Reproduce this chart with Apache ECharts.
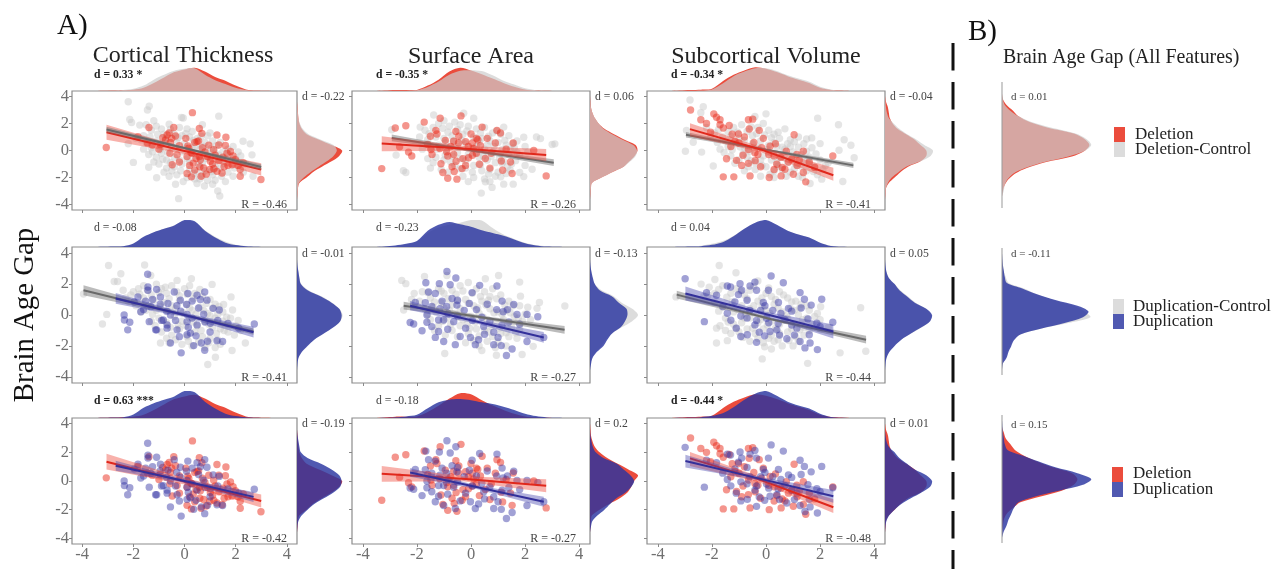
<!DOCTYPE html>
<html><head><meta charset="utf-8">
<script src="https://cdn.jsdelivr.net/npm/echarts@6/dist/echarts.min.js"></script>
<style>html,body{margin:0;padding:0;background:#fff}#c{width:1279px;height:569px;filter:blur(.65px)}</style>
</head><body><div id="c"></div>
<script>
// ---------- data ----------
const tickVals=[-4,-2,0,2,4];
const featureTitles=['Cortical Thickness','Surface Area','Subcortical Volume'];
const rLabels=[['R = -0.46','R = -0.26','R = -0.41'],['R = -0.41','R = -0.27','R = -0.44'],['R = -0.42','R = -0.27','R = -0.48']];
const dTop=[['d = 0.33 *','d = -0.35 *','d = -0.34 *'],['d = -0.08','d = -0.23','d = 0.04'],['d = 0.63 ***','d = -0.18','d = -0.44 *']];
const dRight=[['d = -0.22','d = 0.06','d = -0.04'],['d = -0.01','d = -0.13','d = 0.05'],['d = -0.19','d = 0.2','d = 0.01']];
const dAll=['d = 0.01','d = -0.11','d = 0.15'];

const delT=[[-3.06,.22],[.31,2.8],[2.99,-2.15],[-1.82,1.02],[-.68,1.15],[-.35,1.07],[-.74,.78],[-.42,1.7],[-1.39,1.7],[.58,1.63],[.68,1.27],[1.27,1.15],[1.62,.98],[.49,.66],[.13,.34],[.17,.17],[1.34,.41],[1.6,.37],[1.8,-.07],[1.66,-.2],[-1,.1],[-1.26,.41],[-.57,-.2],[-.29,-.32],[-.48,-1.05],[.34,-.93],[.62,-.68],[.58,-.44],[1.01,-.8],[.75,-1.29],[.99,-1.41],[1.27,-1.54],[1.47,-1.66],[.27,-1.95],[.65,-1.9],[1.86,-1.05],[2.18,-1.41],[2.18,-1.9],[1.99,-.68],[1.14,.05],[.1,-.44],[.55,.7],[.4,.6],[.95,.4],[1.5,-.5],[.8,-.1],[.3,-.2],[1.1,-1],[1.7,-1.1],[2.1,-1.1],[-.6,1.3],[-.5,.9],[.2,-1.1],[.6,-1.2],[-.85,.95],[-.55,.6],[-.2,.35],[.05,.9],[.25,-.15],[.45,-.6],[.7,.2],[.9,-.45],[1.2,-.35],[1.35,-.75],[1.55,-1.2],[.4,-1.45],[.85,-1.75],[1.15,-1.35],[-.2,-.85],[-1.45,.55],[-.95,.45],[2.3,-.9],[1.9,-.4],[.1,-1.7]];
const delCtrlT=[[-2.2,3.6],[-1.38,3.27],[-1.45,3],[-2.14,2.3],[-2.07,2.07],[-1.75,1.88],[-.12,2.44],[1.34,2.54],[-.23,-3.56],[1.3,-3],[1.38,-3.37],[-2,-.88],[-1.4,-1.24],[-1.09,-2.02],[-.35,-2.5],[.49,-2.44],[.78,-2.63],[2.64,-.32],[2.29,.68],[2.57,.49],[2.68,-1.9],[-.05,2.4],[-1.5,1.9],[-1.2,2.2],[-1.3,1.5],[-1.6,1.1],[-1.9,.9],[-2.2,.5],[-1.1,1.8],[-.9,1.6],[-.6,1.95],[-.2,1.7],[.1,1.6],[.3,1.4],[.7,1.9],[.9,1.1],[-.8,1.2],[-.4,1.2],[-.1,1.1],[.2,1],[.5,.9],[.8,.6],[1.1,.7],[1.4,.6],[1.9,.3],[2.1,-.1],[-1.5,.6],[-1.3,.2],[-1.1,.7],[-.9,.4],[-.7,.5],[-.5,.3],[-.3,.6],[0,.5],[.3,.2],[.6,.1],[.9,-.1],[1.2,-.2],[1.5,-.1],[-1.4,-.3],[-1.1,-.5],[-.9,-.2],[-.7,-.7],[-.4,-.5],[-.1,-.1],[.1,-.6],[.4,-.4],[.7,-.9],[1,-.5],[1.3,-.7],[1.6,-.6],[2,-.6],[2.4,-1],[-1,-1],[-.7,-1.3],[-.4,-1.2],[-.1,-1],[.2,-1.4],[.5,-1.6],[.8,-1.5],[1.1,-1.8],[1.4,-1.3],[1.7,-1.6],[1.9,-1.9],[2.3,-1.6],[-.3,-1.8],[.1,-2],[.4,-2.1],[.9,-2.2],[1.2,-2.2],[1.6,-2.3],[-.6,-1.9],[-1.7,.8],[-1.35,1],[-1.05,1.2],[-.75,.85],[-.55,1.55],[-.25,.95],[.05,1.25],[.35,.75],[.65,1.05],[1,1.3],[1.25,.35],[1.7,.1],[-1.6,.1],[-1.25,-.1],[-.95,.05],[-.65,-.15],[-.35,.15],[.05,.15],[.45,.35],[.75,.3],[1.05,.15],[1.35,-.35],[1.75,-.35],[2.2,-.4],[-1.2,-.85],[-.85,-.65],[-.55,-.9],[-.2,-.7],[.2,-.85],[.55,-1.05],[.85,-.6],[1.2,-1.2],[1.55,-.95],[1.95,-1.3],[2.15,-.9],[-.8,-1.6],[-.15,-1.5],[.35,-1.7],[.7,-1.85],[1.05,-1.55],[1.45,-1.9],[-.05,-2.3],[.6,-2.1],[1.1,-2.5],[-.5,-1.5]];
const delS=[[-3.3,-1.34],[-2.8,1.66],[-2.41,1.83],[-1.73,2.1],[-1.14,2.39],[-.37,2.56],[-1.3,1.49],[-1.26,1.22],[-.56,1.41],[0,1.22],[.41,1.73],[.25,.8],[.96,1.49],[1.09,1.29],[1.56,.56],[2.32,0],[2.78,-1.88],[1.52,-1.7],[1.17,-1.46],[1.12,-.78],[1.46,-.85],[.53,-.59],[-.09,-.54],[.31,-1.02],[-.33,-1.34],[-.7,-1.2],[-.62,-1.56],[-.52,-2.12],[-.86,-2.05],[-1.04,-1.63],[-1.11,-.98],[-.86,-.41],[-.64,-.3],[-1.44,-.3],[-1.48,.07],[-2.19,-.41],[-2.31,-.12],[-2.64,.27],[-.64,.68],[-.46,.56],[-.1,.3],[.2,.9],[-.9,-.1],[-.3,-.6],[.05,-.35],[-.95,.75],[-.75,.3],[-.45,1.05],[-.2,.65],[.1,.15],[.35,.35],[.6,.9],[.75,-.2],[.9,.55],[1.3,.1],[-1.6,.45],[-1.15,.15],[-.55,-.8],[-.2,-1.1],[.2,-.2],[.7,-1.3],[-1.5,1.05],[.05,.55]];
const delCtrlS=[[.38,-3.15],[-2.41,-1.63],[-2.77,-.34],[-2.93,1.54],[1.95,.98],[2.42,1],[2.57,.88],[3,.44],[3.1,.49],[-.27,2.76],[-1.38,2.63],[.1,2.39],[-1.88,1.73],[1.21,1.73],[.78,-2.73],[.53,-2.32],[1.21,-2.49],[1.56,-2.49],[1.95,-1.93],[2.26,-1.39],[1.8,-1.63],[-2.5,-1.5],[-1.7,1.5],[-1.4,1.7],[-1.2,2],[-1,2.2],[-.8,1.8],[-.6,2.1],[-.4,1.9],[-.1,1.8],[.2,1.6],[.5,1.7],[.8,1.3],[1.1,1.2],[1.4,1.1],[1.7,.7],[-1.9,1],[-1.6,.8],[-1.3,1],[-1,.9],[-.7,1.1],[-.3,1.2],[.1,1],[.4,.9],[.7,.7],[1,.6],[1.3,.4],[1.6,.2],[2,.3],[-1.8,.1],[-1.5,.2],[-1.2,.4],[-.9,.1],[-.5,.3],[-.2,.5],[.2,.3],[.5,.1],[.8,-.1],[1.1,-.2],[1.4,-.3],[1.8,-.4],[-1.6,-.6],[-1.3,-.5],[-1,-.7],[-.7,-.4],[-.4,-.6],[-.1,-.3],[.3,-.5],[.6,-.7],[.9,-.9],[1.2,-.8],[1.5,-1],[-1.5,-1.3],[-1.1,-1.4],[-.6,-1.1],[-.2,-1.3],[.1,-1.1],[.4,-1.5],[.7,-1.4],[1,-1.6],[1.3,-1.7],[-.3,-1.9],[.1,-2],[.5,-2.1],[.9,-1.9],[-1.55,1.25],[-1.05,1.65],[-.85,1.35],[-.5,1.55],[-.15,1.45],[.35,1.3],[.65,1.05],[.95,1.45],[1.25,.75],[1.55,.5],[-1.65,.45],[-1.25,.1],[-.95,.55],[-.65,.7],[-.35,.75],[.05,.15],[.3,.65],[.6,.4],[.85,.3],[1.15,.05],[1.45,.05],[1.7,-.15],[2.1,-.1],[-1.4,-.9],[-.95,-.35],[-.75,-.85],[-.5,-.15],[-.2,-.75],[.15,-.2],[.45,-.4],[.75,-.45],[1.05,-.55],[1.35,-1.2],[1.65,-.75],[2,-1.1],[-.85,-1.6],[-.4,-1.35],[.05,-1.6],[.35,-1.05],[.65,-1.75],[1.1,-1.95],[1.45,-1.45],[-.1,-2.3],[.7,-2.3],[1.15,-.95]];
const delV=[[-2.79,3],[-2.41,2.27],[-1.93,2.71],[-1.83,2.46],[-1.7,2.27],[-1.36,1.85],[-1.58,1.66],[-1.02,1.22],[-.65,2.27],[-.49,2.32],[-.62,1.59],[-.25,1.49],[1.04,1.17],[2.47,-.41],[-1.58,-1.95],[-1.19,-1.95],[-.59,-1.88],[.12,-2],[.56,-1.88],[1.01,-1.76],[1.47,-2.32],[1.38,-1.63],[.7,-1.39],[.83,-.85],[1.23,-.71],[-1.46,-.61],[-1.09,-.73],[-.9,-1.1],[-.65,-.95],[-.41,-.17],[-.65,.07],[-.16,.2],[.15,.32],[.4,-1.02],[1.14,-.29],[1.38,-.05],[-1.15,.68],[-.3,-.3],[.3,-.4],[-1.7,1.9],[-2.2,2],[-1.25,1.2],[-1,.55],[-.8,1],[-.45,.6],[-.1,.9],[.1,-.3],[.35,.5],[.55,-.5],[.75,-.05],[.95,-.65],[1.15,-1.1],[.3,-1.4],[-.2,-1.2],[-.4,-.75],[-.85,-.35],[1.6,-.85],[.6,-1.25],[1.8,-1.25],[-2.05,1.35],[-1.3,.3]];
const delCtrlV=[[-2.81,3.73],[-2.32,3.24],[-2.41,2.8],[-2.98,-.05],[-2.38,-.12],[-2.69,.61],[-2.94,1.49],[1.91,2.39],[2.68,1.9],[2.89,.8],[3.14,.39],[3.26,-.54],[2.7,.02],[2.84,-2.29],[1.63,-2.44],[2.06,-2.12],[0,2.71],[-.41,2.51],[-1.95,-1.15],[1.69,.93],[2,.51],[-2.2,1.7],[-1.9,1.3],[-1.6,1],[-1.8,.6],[-1.4,1.4],[-1.2,1.7],[-1,.9],[-.9,1.9],[-.7,1.4],[-.5,1.1],[-.3,1.7],[-.1,2],[.1,1.5],[.3,1.2],[.5,.9],[.7,1.6],[.9,.8],[1.2,1],[1.4,.5],[1.7,.2],[-1.7,.1],[-1.4,.3],[-1.1,.5],[-.8,.2],[-.5,.5],[-.2,.7],[.1,.4],[.4,.3],[.7,.1],[1,-.1],[1.3,-.3],[1.6,-.5],[2,-.7],[2.3,-.9],[-1.3,-.4],[-1,-.7],[-.7,-.5],[-.4,-.9],[-.1,-.4],[.2,-.7],[.5,-.5],[.8,-.9],[1.1,-1],[1.4,-.8],[1.8,-1.2],[2.1,-1.4],[-.8,-1.5],[-.4,-1.4],[0,-1.2],[.3,-1.5],[.6,-1.4],[.9,-1.6],[1.2,-1.9],[1.5,-1.5],[1.9,-1.8],[-.2,-1.9],[.3,-2],[-2.05,1],[-1.75,1.55],[-1.5,.7],[-1.3,1.05],[-1.05,1.35],[-.8,.75],[-.55,1.75],[-.35,1.25],[-.05,1.15],[.2,.95],[.45,1.35],[.8,.5],[1.05,.65],[1.5,.85],[-1.55,-.15],[-1.25,.05],[-.95,.25],[-.6,-.05],[-.3,.25],[.05,.05],[.3,.6],[.6,.25],[.9,.3],[1.2,.25],[1.5,-.05],[1.85,-.25],[-1.15,-.95],[-.85,-.25],[-.55,-.75],[-.2,-.7],[.1,-.15],[.4,-.9],[.7,-.55],[1,-.5],[1.3,-1.15],[1.6,-.95],[2.2,-1.1],[-.65,-1.2],[-.15,-1.1],[.15,-1.75],[.45,-1.15],[.75,-1.9],[1.05,-1.35],[1.35,-2],[1.75,-1.55]];
const dupT=[[-1.44,2.64],[-1.43,1.81],[-1.43,1.6],[-1.09,1.66],[-.4,1.49],[-1.82,1.17],[-1.52,.9],[-2.36,0],[-2.35,-.32],[-2.14,-.47],[-2.22,-.96],[-1.38,-.43],[-1.09,-.96],[-.83,-.32],[-.65,.75],[.13,1.39],[.79,1.49],[.62,1],[.88,.96],[1.12,.43],[1.36,.32],[.08,.68],[.1,.04],[-.16,.96],[-.55,-1.81],[-.13,-2.45],[.1,-1.28],[.36,-1.98],[.66,-1.81],[.79,-2.28],[1.27,-1.66],[1.49,-1.71],[2.73,-.58],[2.12,-.85],[-.68,-.85],[-1.13,-.96],[.1,-.43],[.49,-.64],[1.01,-.53],[-.55,0],[-1.71,.21],[-1.97,.85],[-.68,-.64],[-.29,-.96],[.23,-1.17],[-.94,1.17],[-1.32,.53],[.49,1.28],[-1.25,1],[-.95,.7],[-.7,.25],[-.3,.6],[.3,.9],[.55,.45],[.75,.05],[-.15,.25],[.3,-.2],[.8,-.45],[1.3,-.35],[1.7,-.55],[-.2,-1.4],[.45,-1.35],[1,-1.1],[-.9,-.35],[-1.6,.35],[-.35,-.35],[.15,-.8],[.9,-1.7]];
const dupCtrlT=[[-2.97,3.2],[-1.56,3.24],[-2.49,2.67],[-1.32,2.56],[-2.75,2.17],[-2.62,2.17],[-3.95,1.36],[-3.21,-.58],[-3.04,.04],[1.08,1.98],[1.82,1.17],[1.53,.68],[1.88,.32],[2.38,-1.81],[1.86,-2.3],[1.21,-2.73],[.91,-3.2],[.27,2.35],[-.29,2.24],[-.94,-1.81],[-2.4,1.6],[-2.1,1.3],[-1.8,1.7],[-1.6,1.9],[-2.2,.9],[-1.9,.6],[-1.6,1.1],[-1.3,1.3],[-1.1,2],[-.9,1.7],[-.7,1.4],[-.5,1.9],[-.3,1.5],[0,1.7],[.2,1.9],[.4,1.4],[.7,1.2],[1,1],[1.2,.7],[1.5,.2],[1.8,-.2],[-1.7,.2],[-1.4,.6],[-1.1,.3],[-.8,.8],[-.5,.6],[-.2,.9],[.1,.7],[.3,.3],[.6,.5],[.9,.1],[1.2,-.2],[1.5,-.4],[2,-.7],[-1.3,-.4],[-1,-.2],[-.7,-.5],[-.4,-.1],[-.1,-.4],[.2,-.2],[.5,-.7],[.8,-.4],[1.1,-.8],[1.4,-.9],[1.7,-1.1],[2.2,-1],[-.9,-1.1],[-.5,-1.3],[-.2,-.9],[.1,-1.4],[.4,-1.1],[.7,-1.4],[1,-1.5],[1.3,-1.6],[-.6,-1.8],[-.1,-1.9],[.3,-2],[.8,-2.1],[1.2,-2.1],[-2.3,1.1],[-2,1.5],[-1.75,1.35],[-1.45,1.6],[-1.2,.95],[-1,1.45],[-.75,1.8],[-.6,1.05],[-.2,1.25],[.1,1.35],[.35,1.05],[.6,1.65],[.85,.75],[1.1,.45],[1.35,.55],[-1.5,.3],[-1.25,.05],[-.95,.55],[-.65,.25],[-.35,.4],[-.05,.15],[.2,.45],[.45,.05],[.75,.3],[1,-.05],[1.3,.05],[1.65,-.15],[2.1,-.35],[-1.15,-.7],[-.85,-.35],[-.55,-.8],[-.25,-.65],[.05,-.7],[.35,-.45],[.65,-1],[.95,-.6],[1.25,-1.2],[1.55,-1],[1.95,-1.3],[-.7,-1.5],[-.35,-1.6],[.15,-1.7],[.55,-1.75],[.95,-1.8],[1.4,-1.9]];
const dupS=[[-.89,2.81],[-.56,2.39],[-.77,1.96],[-1.17,2.03],[-1.67,2.09],[.32,1.92],[.96,1.88],[.04,1.45],[-.06,.75],[-1.57,1.49],[-1.32,1.39],[-1.07,.9],[-.7,1.07],[-1.69,.79],[-2.06,.81],[1.15,.9],[1.58,.68],[1.19,.21],[1.7,.04],[2.07,.04],[2.47,-.11],[-1.63,0],[-1.63,-.47],[-2.25,-.49],[-2.12,-.58],[-1.81,-1.02],[-1.2,-.32],[-.86,-.92],[-1.2,-1.07],[-1.32,-1.45],[-1.01,-1.71],[-.58,-1.92],[-.4,-1.39],[-.02,-1.45],[.28,-1.6],[.16,-1.92],[.47,-.75],[.84,-1.11],[1.15,-.64],[2.07,-1.71],[2.69,-1.45],[1.52,-2.2],[1.31,-2.62],[1.12,-1.98],[.84,-1.92],[-.64,-.43],[-1.01,-.32],[-.52,.64],[-1.45,.55],[-1.15,.4],[-.9,.55],[-.5,.95],[-.25,.3],[.2,.35],[.6,.7],[.95,.35],[1.35,.35],[-.85,.1],[-.5,-.05],[.05,-.35],[.4,-.15],[.7,-.4],[1.4,-.45],[1.8,-.6],[-.2,-.85],[.5,-1.25],[1,-1.45],[-1.45,-.75]];
const dupCtrlS=[[-2.56,2.24],[-2.41,2.03],[-1.72,2.49],[-.89,2.56],[1.02,2.56],[.53,2.35],[1.8,2.13],[1.83,1.22],[2.53,.81],[3.47,.58],[2.44,.43],[-.97,-2.49],[.94,-2.6],[1.89,-2.56],[2.3,-2.03],[-2.49,.32],[-2.1,1.4],[-1.8,1.5],[-1.9,.9],[-1.5,1.1],[-1.2,1.7],[-1,1.4],[-.7,1.6],[-.4,1.9],[-.1,2.1],[.2,1.7],[.5,1.5],[.8,1.7],[.7,1.2],[1.1,1.3],[1.4,.9],[1.8,.6],[2.1,.5],[-1.7,.4],[-1.4,.5],[-1.1,.8],[-.8,.3],[-.5,.9],[-.2,1],[.1,.6],[.4,.9],[.7,.4],[1,.2],[1.3,.3],[1.6,-.1],[1.9,-.4],[2.2,-.3],[-1.5,-.3],[-1.2,-.7],[-.9,-.2],[-.6,.1],[-.3,-.3],[0,-.1],[.3,.1],[.6,-.3],[.9,-.5],[1.2,-.3],[1.5,-.8],[1.8,-.9],[-.7,-1],[-.4,-.7],[-.1,-1.2],[.2,-.9],[.5,-1],[.8,-1.4],[1.1,-1.2],[1.4,-1.4],[1.7,-1.5],[-.2,-1.8],[.3,-2],[.6,-1.7],[.9,-2.1],[1.3,-2],[.4,-2.3],[-2.2,1],[-1.6,1.45],[-1.35,.85],[-1.1,1.55],[-.85,1.05],[-.55,1.35],[-.3,1.55],[.05,1.4],[.35,1.2],[.65,.95],[.95,1.05],[1.25,.65],[1.55,.6],[-1.6,.05],[-1.3,.2],[-1,.45],[-.7,.65],[-.4,.4],[-.1,.75],[.25,.45],[.55,.65],[.85,.15],[1.15,.05],[1.45,.15],[1.75,-.2],[2,.05],[-1.35,-1],[-1.05,-.4],[-.75,-.6],[-.45,-.15],[-.15,-.6],[.15,-.45],[.45,-.15],[.75,-.75],[1.05,-.85],[1.35,-.6],[1.65,-1.15],[-.95,-1.3],[-.5,-1.4],[-.05,-.85],[.3,-1.35],[.65,-1.1],[1,-1.75],[1.3,-1.15],[.1,-1.65]];
const dupV=[[-2.99,2.35],[.19,2.52],[.64,2.09],[-.96,2.03],[-1.43,1.88],[-1.31,1.81],[-.59,1.88],[-.41,2.13],[-.9,1.6],[-1.02,1.32],[-.35,1.6],[.09,1.6],[1.26,1.45],[1.42,1.02],[1.67,.64],[2.06,1.02],[.46,.81],[-.1,.81],[-.04,.6],[.83,.43],[-2.2,1.45],[-1.83,1.28],[-2.28,-.43],[-1.3,-.34],[-1.43,.11],[-.93,-.06],[-.35,-1.77],[-.69,-1.28],[-.93,-1.39],[-.25,-1.11],[.15,-1.07],[.7,-.32],[2.47,-.47],[1.88,-.53],[1.6,-1.28],[1.63,-1.81],[1.44,-2.13],[1.9,-2.24],[1.26,-1.71],[.77,-1.54],[.4,-.96],[1.14,-.85],[.02,-.21],[-.41,-.64],[-1.6,.55],[-1.15,.85],[-.7,.95],[-.6,.3],[-.2,.3],[.25,.3],[.55,.1],[.95,.25],[1.3,.45],[1.55,-.25],[-.7,-.2],[-.35,-.35],[.1,-.5],[.45,-.55],[.95,-.65],[-.05,-1.35],[.5,-1.3],[1.05,-1.3],[2,-.75],[-1.1,-.85]];
const dupCtrlV=[[-1.73,3.2],[-1.11,2.73],[-3.33,1.17],[-1.89,2.3],[3.5,.47],[3.69,-2.35],[2.74,-2.45],[1.54,-3.13],[-.14,-2.84],[-1.83,-1.81],[-1.43,-1.66],[-1.83,-.85],[2.02,.53],[-2.4,2],[-2.1,1.8],[-1.9,1.4],[-1.6,1.9],[-2.3,1.2],[-1.9,.8],[-1.6,.5],[-1.3,1.4],[-1.1,1.7],[-.8,1.3],[-.6,1.6],[-.3,2.2],[0,1.4],[.2,1.2],[.5,1.5],[.8,1.1],[1.1,.9],[1.3,.7],[1.6,.3],[1.9,.1],[-1.5,-.2],[-1.2,.2],[-.9,.6],[-.6,.4],[-.3,.9],[0,.3],[.3,.7],[.6,.2],[.9,.4],[1.2,0],[1.5,-.2],[2,-.3],[2.3,-.8],[-1.7,-.7],[-1.2,-.6],[-.9,-.5],[-.6,-.2],[-.3,-.5],[-.1,-.1],[.2,-.4],[.5,-.6],[.8,-.2],[1.1,-.6],[1.4,-.8],[1.7,-.6],[-1.3,-1.2],[-1,-1.1],[-.7,-.9],[-.4,-1.2],[-.1,-.9],[.2,-1.3],[.5,-1.2],[.8,-1.1],[1.1,-1.4],[1.4,-1.3],[-.6,-1.7],[-.1,-1.8],[.3,-1.7],[.6,-2],[1,-2],[.2,-2.2],[-2.15,1.3],[-1.75,1.65],[-1.45,1.15],[-1.25,.85],[-.95,1.55],[-.7,1.05],[-.45,1.85],[-.15,1.1],[.1,1.75],[.35,1],[.65,1.3],[.95,.85],[1.25,.45],[1.5,.6],[-1.75,.25],[-1.4,-.45],[-1.05,.35],[-.75,.1],[-.45,.6],[-.15,.55],[.15,.1],[.45,.45],[.75,-.05],[1.05,.3],[1.35,-.3],[1.8,-.1],[-1.5,-1],[-1.1,-.85],[-.8,-.2],[-.5,-.85],[-.2,-.3],[.05,-.65],[.35,-.85],[.65,-.25],[.95,-.9],[1.25,-.95],[1.6,-1],[2,-.9],[-.85,-1.45],[-.3,-1.5],[.1,-1.5],[.45,-1.6],[.85,-1.65],[1.2,-1.7],[-.05,-2.05]];

// regression fits: [x, lower, fit, upper] at left end, middle, right end
const fitDelT=[[-3.05,.8,1.35,1.9],[0,-.25,-.03,.2],[3,-1.85,-1.4,-.95]];
const fitDelCtrlT=[[-3.05,1.35,1.55,1.75],[0,.1,.18,.26],[3,-1.42,-1.22,-1.02]];
const fitDelS=[[-3.3,-.05,.51,1.05],[-.3,-.02,.15,.34],[2.78,-.78,-.34,.12]];
const fitDelCtrlS=[[-2.93,.68,.93,1.18],[0,-.1,.02,.12],[3.06,-1.15,-.9,-.65]];
const fitDelV=[[-2.81,1.05,1.58,2.02],[-.2,-.12,.08,.28],[2.49,-2.24,-1.83,-1.27]];
const fitDelCtrlV=[[-2.96,.97,1.17,1.37],[0,-.04,.05,.14],[3.23,-1.3,-1.1,-.9]];
const fitDupT=[[-2.69,.72,1.07,1.42],[0,-.13,0,.13],[2.7,-1.46,-1.11,-.76]];
const fitDupCtrlT=[[-3.95,1.28,1.6,1.92],[0,-.08,0,.08],[2.7,-1.27,-1.07,-.87]];
const fitDupS=[[-2.25,.3,.6,.9],[.2,-.55,-.42,-.29],[2.69,-1.8,-1.45,-1.1]];
const fitDupCtrlS=[[-2.49,.35,.6,.85],[.5,-.28,-.18,-.08],[3.46,-1.21,-.96,-.71]];
const fitDupV=[[-2.98,.94,1.39,1.84],[-.2,.02,.15,.28],[2.49,-1.52,-1.07,-.62]];
const fitDupCtrlV=[[-3.3,1.07,1.32,1.57],[.2,-.35,-.27,-.19],[3.7,-1.85,-1.6,-1.35]];

// density curves: height (fraction of strip) at each value of densityAt
const densityAt=[-4,-3.6,-3.2,-2.8,-2.4,-2,-1.6,-1.2,-.8,-.4,0,.4,.8,1.2,1.6,2,2.4,2.8,3.2,3.6,4];
const topDelT=[0,0,.01,.02,.03,.05,.12,.3,.5,.7,.8,.86,.72,.52,.38,.2,.06,.02,.01,0,0];
const topDelCtrlT=[0,0,.01,.02,.04,.08,.2,.42,.6,.75,.82,.84,.6,.4,.26,.12,.04,.02,.01,0,0];
const topDelS=[0,0,.02,.04,.04,.04,.2,.42,.72,.86,.76,.62,.46,.3,.16,.06,.02,.01,0,0,0];
const topDelCtrlS=[0,0,.01,.01,.01,.03,.15,.35,.6,.75,.77,.74,.58,.38,.24,.1,.03,.01,0,0,0];
const topDelV=[0,0,.02,.04,.05,.08,.36,.6,.76,.88,.82,.7,.55,.42,.3,.12,.04,.02,0,0,0];
const topDelCtrlV=[0,0,.01,.01,.02,.06,.28,.55,.72,.84,.84,.74,.58,.46,.34,.16,.06,.02,.01,0,0];
const topDupT=[0,0,.01,.02,.03,.13,.38,.55,.68,.8,1,.95,.6,.35,.16,.07,.03,.01,0,0,0];
const topDupCtrlT=[0,0,.01,.02,.03,.12,.36,.55,.68,.8,.97,.92,.62,.38,.2,.08,.04,.01,0,0,0];
const topDupS=[0,0,.02,.06,.12,.22,.6,.82,.93,.84,.75,.62,.52,.42,.28,.14,.06,.02,.01,0,0];
const topDupCtrlS=[0,0,.01,.04,.1,.2,.52,.72,.82,.9,1,.98,.7,.46,.3,.16,.07,.02,.01,0,0];
const topDupV=[0,0,.01,.02,.03,.08,.18,.4,.68,.9,1,.82,.6,.46,.35,.16,.04,.01,0,0,0];
const topDupCtrlV=[0,0,.01,.02,.05,.12,.22,.42,.68,.88,.98,.8,.6,.46,.33,.16,.05,.02,0,0,0];
const lowTopDelS=[0,0,.02,.05,.05,.06,.22,.45,.72,.92,.88,.66,.46,.3,.16,.06,.02,.01,0,0,0];
const lowTopDupS=[0,0,.01,.03,.06,.12,.36,.58,.68,.7,.66,.58,.52,.42,.3,.16,.07,.02,.01,0,0];
const rightDelT=[0,0,.01,.02,.05,.2,.33,.52,.72,.88,.94,.72,.46,.2,.1,.05,.03,.02,.01,0,0];
const rightDelCtrlT=[0,0,.01,.02,.04,.14,.28,.45,.62,.76,.83,.76,.5,.24,.12,.06,.03,.02,.01,0,0];
const rightDelS=[0,0,.01,.02,.04,.24,.46,.7,.82,.93,.99,.95,.72,.5,.3,.18,.1,.05,.02,.01,0];
const rightDelCtrlS=[0,0,.01,.02,.04,.24,.46,.7,.84,.95,.98,.9,.68,.46,.28,.18,.1,.05,.02,.01,0];
const rightDelV=[0,0,.01,.02,.08,.2,.32,.48,.74,.86,.86,.74,.62,.44,.26,.16,.1,.08,.06,.02,0];
const rightDelCtrlV=[0,0,.01,.02,.06,.14,.28,.44,.74,.95,1,.82,.66,.46,.3,.18,.08,.04,.02,.01,0];
const rightDupT=[0,0,.01,.03,.1,.22,.36,.56,.76,.9,.93,.88,.72,.5,.22,.08,.05,.03,.01,0,0];
const rightDupCtrlT=[0,0,.01,.02,.09,.2,.35,.55,.75,.9,.95,.88,.73,.52,.24,.09,.05,.03,.01,0,0];
const rightDupS=[0,0,.02,.05,.14,.28,.36,.46,.64,.73,.78,.76,.6,.46,.2,.1,.06,.03,.01,0,0];
const rightDupCtrlS=[0,0,.01,.04,.12,.24,.33,.46,.66,.88,1,.88,.66,.5,.24,.1,.05,.03,.01,0,0];
const rightDupV=[0,0,.01,.03,.09,.2,.34,.54,.76,.94,.98,.86,.62,.46,.3,.2,.08,.03,.01,0,0];
const rightDupCtrlV=[0,0,.01,.03,.08,.19,.33,.54,.77,.93,.96,.85,.64,.48,.32,.2,.08,.03,.01,0,0];
const lowRightDelS=[0,0,.01,.02,.04,.2,.4,.62,.78,.86,.92,1,.8,.58,.36,.2,.1,.05,.02,.01,0];
const lowRightDupS=[0,0,.02,.05,.16,.3,.42,.55,.74,.86,.92,.84,.7,.56,.28,.12,.06,.03,.01,0,0];
const allDel=[0,0,.01,.03,.07,.14,.27,.47,.76,.9,.95,.9,.78,.5,.3,.18,.12,.05,.01,0,0];
const allDelCtrl=[0,0,.02,.03,.06,.12,.25,.45,.72,.9,.97,.92,.8,.54,.32,.18,.09,.03,.01,0,0];
const allDup=[0,.01,.05,.07,.1,.13,.2,.42,.68,.88,.94,.82,.58,.38,.22,.05,.03,.02,.01,.005,0];
const allDupCtrl=[0,.01,.04,.06,.09,.12,.2,.42,.72,.96,.9,.78,.56,.38,.24,.07,.04,.02,.01,0,0];
const allDelB=[0,0,.01,.02,.05,.12,.2,.42,.65,.78,.82,.76,.55,.38,.24,.14,.09,.04,.02,0,0];
const allDupB=[0,.02,.05,.07,.1,.13,.18,.36,.62,.88,.97,.82,.58,.4,.23,.06,.03,.02,.01,.005,0];

// ---------- styling and layout ----------
const C={del:{pt:'rgba(232,40,25,.62)',line:'#e0281c',band:'rgba(238,70,55,.42)',area:'rgba(235,72,56,.98)'},
 delc:{pt:'rgba(198,198,198,.58)',line:'#6a6a6a',band:'rgba(120,120,120,.5)',area:'rgba(205,205,205,.7)'},
 dup:{pt:'rgba(52,52,165,.58)',line:'#33309a',band:'rgba(70,70,175,.42)',area:'rgba(42,52,160,.82)'}};
const colX=[{l:72,w:225},{l:352,w:238},{l:647,w:238}];
const rowY=[{t:91,h:119},{t:247,h:136},{t:418,h:126}];
const rightW=48,topH=27;
const serif='"Liberation Serif",serif';
const LIM=4.4;
const grid=[],xAxis=[],yAxis=[],series=[];
function addAxes(gr,xa,ya){const i=grid.length;grid.push(gr);xa.gridIndex=i;ya.gridIndex=i;xAxis.push(xa);yAxis.push(ya);return i;}
const hidden=(min,max)=>({type:'value',min,max,show:false,splitLine:{show:false}});
function panelAxis(showLabel,margin){return {type:'value',min:-LIM,max:LIM,splitLine:{show:false},axisLine:{show:false,onZero:false},
 axisTick:{show:true,length:3,lineStyle:{color:'#8a8a8a',width:1},customValues:tickVals},
 axisLabel:{show:showLabel,customValues:tickVals,color:'#707070',fontFamily:serif,fontSize:16.5,margin}};}
function band(i,fit,col,z){series.push({type:'custom',xAxisIndex:i,yAxisIndex:i,z,silent:true,clip:true,data:[[0,0]],
 renderItem:(p,api)=>{const poly=fit.map(r=>api.coord([r[0],r[3]])).concat(fit.slice().reverse().map(r=>api.coord([r[0],r[1]])));
  return {type:'polygon',shape:{points:poly},style:{fill:col}};}});}
function fitLine(i,fit,col,z){series.push({type:'line',xAxisIndex:i,yAxisIndex:i,z,silent:true,symbol:'none',lineStyle:{color:col,width:2},data:fit.map(r=>[r[0],r[2]])});}
function scatterOf(i,data,col,z){series.push({type:'scatter',xAxisIndex:i,yAxisIndex:i,z,silent:true,symbolSize:7.4,itemStyle:{color:col},data});}
function dens(i,vals,col,horizontal,z){series.push({type:'custom',xAxisIndex:i,yAxisIndex:i,z,silent:true,clip:true,data:[[0,0]],
 renderItem:(p,api)=>{const P=vals.map((d,k)=>api.coord(horizontal?[d,densityAt[k]]:[densityAt[k],d]));
  return {type:'polygon',shape:{points:P,smooth:.3},style:{fill:col}};}});}

const rows=[
 [{pts:[[delCtrlT,'delc'],[delT,'del']],fits:[[fitDelT,'del'],[fitDelCtrlT,'delc']],top:[[topDelT,'del'],[topDelCtrlT,'delc']],right:[[rightDelT,'del'],[rightDelCtrlT,'delc']]},
  {pts:[[delCtrlS,'delc'],[delS,'del']],fits:[[fitDelCtrlS,'delc'],[fitDelS,'del']],top:[[topDelS,'del'],[topDelCtrlS,'delc']],right:[[rightDelS,'del'],[rightDelCtrlS,'delc']]},
  {pts:[[delCtrlV,'delc'],[delV,'del']],fits:[[fitDelCtrlV,'delc'],[fitDelV,'del']],top:[[topDelV,'del'],[topDelCtrlV,'delc']],right:[[rightDelV,'del'],[rightDelCtrlV,'delc']]}],
 [{pts:[[dupCtrlT,'delc'],[dupT,'dup']],fits:[[fitDupCtrlT,'delc'],[fitDupT,'dup']],top:[[topDupCtrlT,'delc'],[topDupT,'dup']],right:[[rightDupCtrlT,'delc'],[rightDupT,'dup']]},
  {pts:[[dupCtrlS,'delc'],[dupS,'dup']],fits:[[fitDupCtrlS,'delc'],[fitDupS,'dup']],top:[[topDupCtrlS,'delc'],[topDupS,'dup']],right:[[rightDupCtrlS,'delc'],[rightDupS,'dup']]},
  {pts:[[dupCtrlV,'delc'],[dupV,'dup']],fits:[[fitDupCtrlV,'delc'],[fitDupV,'dup']],top:[[topDupCtrlV,'delc'],[topDupV,'dup']],right:[[rightDupCtrlV,'delc'],[rightDupV,'dup']]}],
 [{pts:[[delT,'del'],[dupT,'dup']],fits:[[fitDelT,'del'],[fitDupT,'dup']],top:[[topDelT,'del'],[topDupT,'dup']],right:[[rightDelT,'del'],[rightDupT,'dup']]},
  {pts:[[delS,'del'],[dupS,'dup']],fits:[[fitDelS,'del'],[fitDupS,'dup']],top:[[lowTopDelS,'del'],[lowTopDupS,'dup']],right:[[lowRightDelS,'del'],[lowRightDupS,'dup']]},
  {pts:[[delV,'del'],[dupV,'dup']],fits:[[fitDelV,'del'],[fitDupV,'dup']],top:[[topDelV,'del'],[topDupV,'dup']],right:[[rightDelV,'del'],[rightDupV,'dup']]}]];

rows.forEach((row,r)=>row.forEach((p,c)=>{
 const X=colX[c],Y=rowY[r];
 const i=addAxes({left:X.l,top:Y.t,width:X.w,height:Y.h,show:true,backgroundColor:'#fff',borderColor:'#8c8c8c',borderWidth:1.2},panelAxis(r===2,2),panelAxis(c===0,3));
 p.pts.forEach((s,k)=>scatterOf(i,s[0],C[s[1]].pt,3+k));
 p.fits.forEach((s,k)=>{band(i,s[0],C[s[1]].band,6+k*2);fitLine(i,s[0],C[s[1]].line,7+k*2);});
 const t=addAxes({left:X.l,top:Y.t-topH,width:X.w,height:topH},hidden(-LIM,LIM),hidden(0,1));
 p.top.forEach((s,k)=>dens(t,s[0],C[s[1]].area,false,2+k));
 const rg=addAxes({left:X.l+X.w,top:Y.t,width:rightW,height:Y.h},hidden(0,1),hidden(-LIM,LIM));
 p.right.forEach((s,k)=>dens(rg,s[0],C[s[1]].area,true,2+k));
}));
[{t:82,h:126,d:[[allDel,'del'],[allDelCtrl,'delc']]},{t:248,h:127,d:[[allDupCtrl,'delc'],[allDup,'dup']]},{t:415,h:128,d:[[allDelB,'del'],[allDupB,'dup']]}].forEach(b=>{
 const i=addAxes({left:1002,top:b.t,width:92,height:b.h},hidden(0,1),hidden(-LIM,LIM));
 b.d.forEach((s,k)=>dens(i,s[0],C[s[1]].area,true,2+k));
});

// ---------- text ----------
const g=[];
const txt=(text,x,y,size,o={})=>g.push({type:'text',x,y,z:50,rotation:o.rot||0,silent:true,style:{text,fill:o.fill||'#222',
 font:(o.bold?'bold ':'')+size+'px '+serif,textAlign:o.align||'left',textVerticalAlign:'middle'}});
txt('A)',57,26,29,{fill:'#111'});txt('B)',968,32,29,{fill:'#111'});
featureTitles.forEach((t,c)=>txt(t,[183,471,766][c],[56,57,57][c],24,{align:'center'}));
txt('Brain Age Gap (All Features)',1003,58,19.9);
txt('Brain Age Gap',25,315,28.8,{align:'center',rot:Math.PI/2,fill:'#111'});
const topLX=[94,376,671],topLY=[75,228,401],rightLX=[302,595,890],rightLY=[97,254,424],rLX=[287,576,871],rLY=[205,378,539];
for(let r=0;r<3;r++)for(let c=0;c<3;c++){
 const sig=dTop[r][c].includes('*');
 txt(dTop[r][c],topLX[c],topLY[r],11.7,{bold:sig,fill:sig?'#222':'#444'});
 txt(dRight[r][c],rightLX[c],rightLY[r],11.7,{fill:'#444'});
 txt(rLabels[r][c],rLX[c],rLY[r],12,{align:'right',fill:'#444'});
}
[97,254,425].forEach((y,i)=>txt(dAll[i],1011,y,11,{fill:'#444'}));
g.push({type:'line',silent:true,z:50,shape:{x1:953,y1:43,x2:953,y2:569},style:{stroke:'#111',lineWidth:3,lineDash:[27.5,11.5]}});
[[82,208],[248,375],[415,543]].forEach(s=>g.push({type:'line',silent:true,z:40,shape:{x1:1002,y1:s[0],x2:1002,y2:s[1]},style:{stroke:'#999',lineWidth:1}}));
const legends=[{x:1114,y:127,tx:1135,items:[['Deletion','del'],['Deletion-Control','delc']],ty:[135,150]},
 {x:1113,y:299,tx:1133,items:[['Duplication-Control','delc'],['Duplication','dup']],ty:[307,322]},
 {x:1112,y:467,tx:1133,items:[['Deletion','del'],['Duplication','dup']],ty:[474,490]}];
legends.forEach(L=>L.items.forEach((it,k)=>{
 g.push({type:'rect',silent:true,z:45,shape:{x:L.x,y:L.y+k*15,width:11,height:15},style:{fill:C[it[1]].area}});
 txt(it[0],L.tx,L.ty[k],17,{fill:'#222'});
}));

const chart=echarts.init(document.getElementById('c'),null,{renderer:'canvas'});
chart.setOption({animation:false,backgroundColor:'#fff',tooltip:{show:false},grid,xAxis,yAxis,series,graphic:{elements:g}});
</script></body></html>
